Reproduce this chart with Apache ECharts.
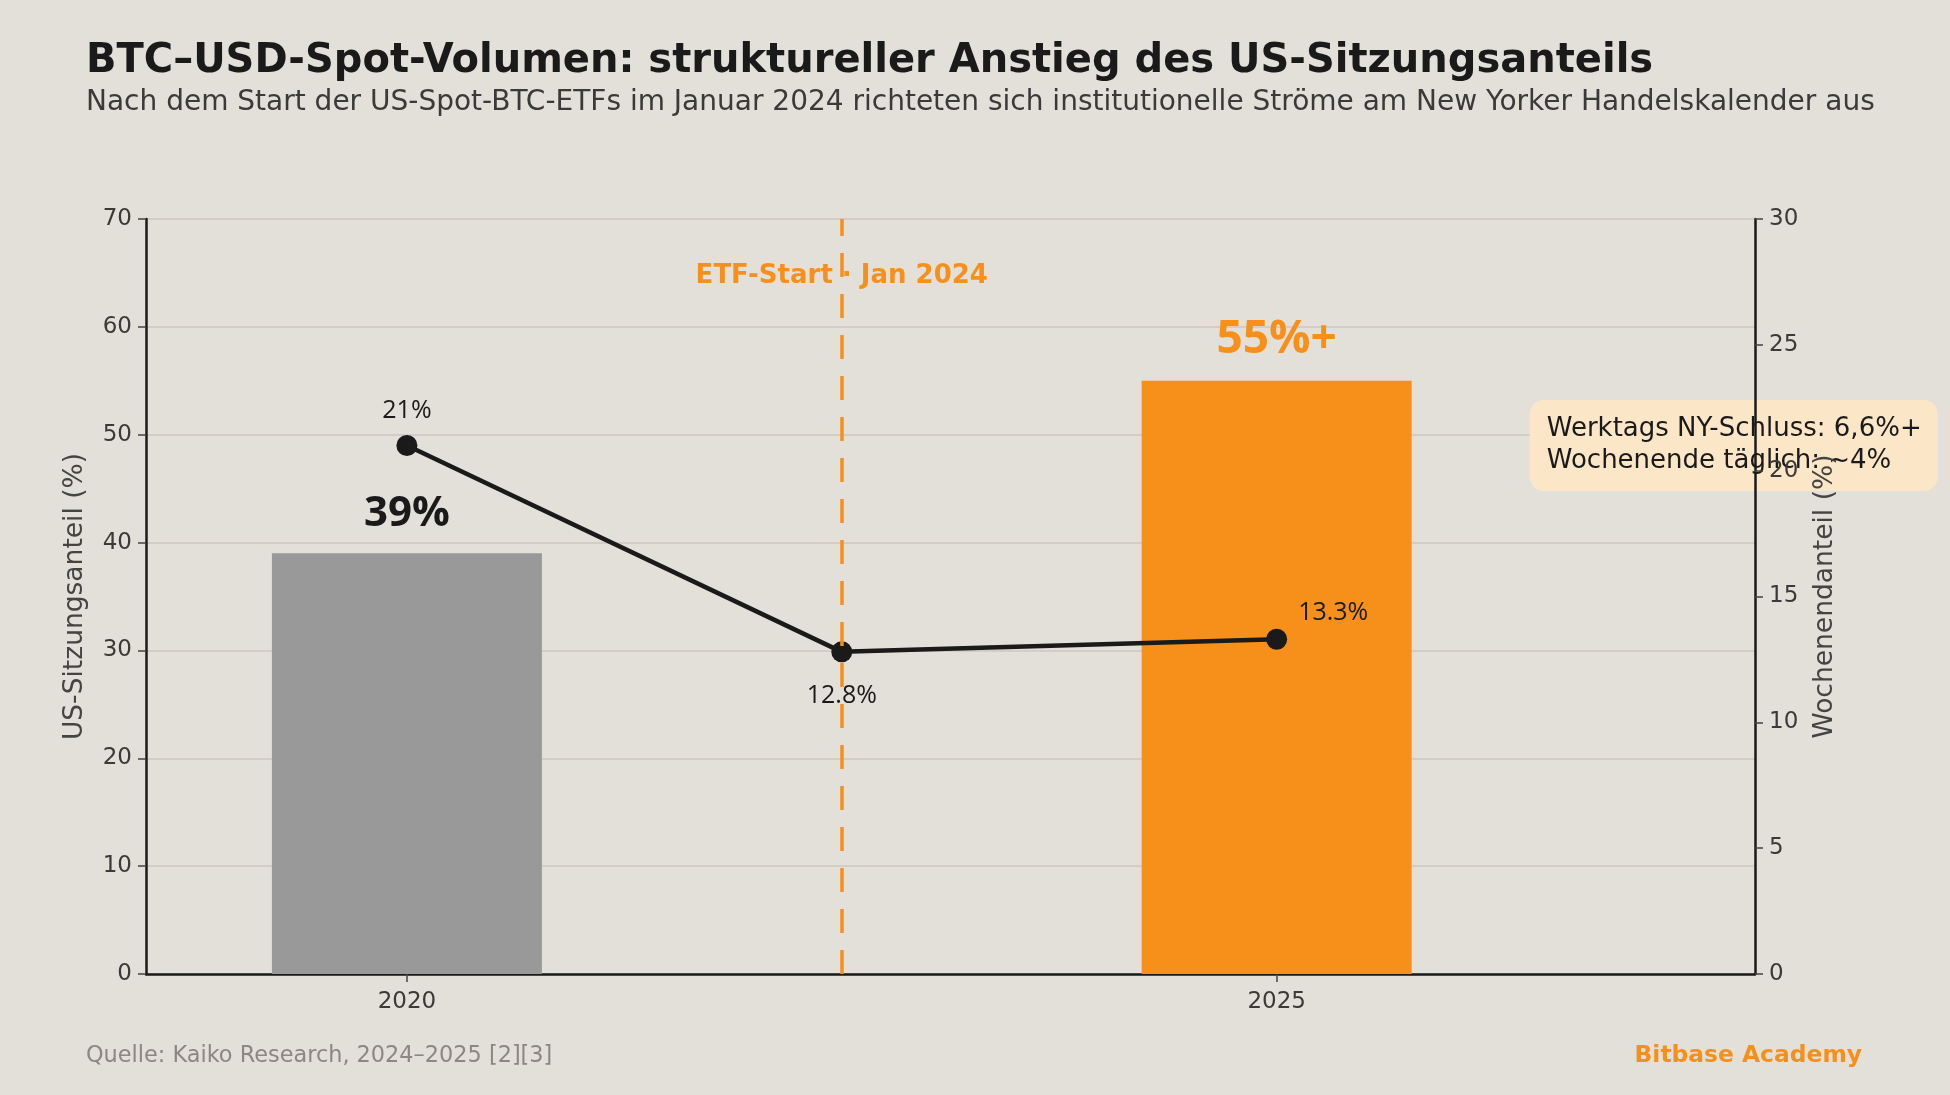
<!DOCTYPE html>
<html>
<head>
<meta charset="utf-8">
<script src="https://cdn.jsdelivr.net/npm/echarts@6/dist/echarts.min.js"></script>
<style>
    html, body { margin: 0; padding: 0; background: #e3dfd9; }
    #chart { width: 1950px; height: 1095px; }
</style>
</head>
<body>
<div id="chart"></div>
<script>
    // Werte aus der Grafik
    const years = ['2020', '2025']
    const yearPos = [0, 1]
    const usShare = [39, 55]
    const usShareLabels = ['39%', '55%+']
    const weekendPos = [0, 0.5, 1]
    const weekendShare = [21, 12.8, 13.3]
    const weekendLabels = ['21%', '12.8%', '13.3%']
    const etfPos = 0.5
    const leftTicks = [0, 10, 20, 30, 40, 50, 60, 70]
    const rightTicks = [0, 5, 10, 15, 20, 25, 30]

    const orange = '#f7901a'
    const dark = '#1a1a1a'
    const font = '"DejaVu Sans", sans-serif'
    const labelFont = '"Open Sans", sans-serif'
    const tickFont = '"DejaVu Sans", sans-serif'

    const barData = yearPos.map((x, i) => ({
        value: [x, usShare[i]],
        itemStyle: {color: i === 0 ? '#999999' : orange},
        label: {
            formatter: usShareLabels[i],
            color: i === 0 ? dark : orange,
            fontSize: i === 0 ? 42 : 46
        }
    }))

    const lineLabelPos = [
        {position: 'top', distance: 12},
        {position: 'bottom', distance: 21},
        {position: 'right', distance: 11, offset: [0, -26]}
    ]
    const lineData = weekendPos.map((x, i) => ({
        value: [x, weekendShare[i]],
        label: Object.assign({formatter: weekendLabels[i]}, lineLabelPos[i])
    }))

    const chart = echarts.init(document.getElementById('chart'))
    const option = {
        backgroundColor: '#e3dfd9',
        animation: false,
        title: [
            {
                text: 'BTC–USD-Spot-Volumen: struktureller Anstieg des US-Sitzungsanteils',
                left: 81, top: 37,
                textStyle: {fontFamily: font, fontSize: 40, fontWeight: 'bold', color: dark}
            },
            {
                text: 'Nach dem Start der US-Spot-BTC-ETFs im Januar 2024 richteten sich institutionelle Ströme am New Yorker Handelskalender aus',
                left: 81, top: 84,
                textStyle: {fontFamily: font, fontSize: 28, fontWeight: 'normal', color: '#3a3a3a'}
            },
            {
                text: 'Quelle: Kaiko Research, 2024–2025 [2][3]',
                left: 81, top: 1040,
                textStyle: {fontFamily: font, fontSize: 22.4, fontWeight: 'normal', color: '#8c8782'}
            },
            {
                text: 'Bitbase Academy',
                right: 83, top: 1039,
                textStyle: {fontFamily: font, fontSize: 23.4, fontWeight: 'bold', color: orange}
            }
        ],
        grid: {left: 146, right: 195, top: 219, bottom: 121},
        xAxis: {
            type: 'value',
            min: -0.3,
            max: 1.55,
            axisLine: {lineStyle: {color: dark, width: 2.5}},
            axisTick: {customValues: yearPos, length: 8, lineStyle: {color: '#444', width: 1.5}},
            axisLabel: {
                customValues: yearPos,
                formatter: v => years[yearPos.indexOf(v)],
                margin: 17,
                fontFamily: tickFont, fontSize: 23, color: '#3a3a3a'
            },
            splitLine: {show: false}
        },
        yAxis: [
            {
                type: 'value',
                min: leftTicks[0],
                max: leftTicks[leftTicks.length - 1],
                interval: leftTicks[1] - leftTicks[0],
                name: 'US-Sitzungsanteil (%)',
                nameLocation: 'middle',
                nameRotate: 90,
                nameGap: 57,
                nameTextStyle: {fontFamily: font, fontSize: 26.5, color: '#444'},
                axisLine: {show: true, onZero: false, lineStyle: {color: dark, width: 2.5}},
                axisTick: {show: true, length: 8, lineStyle: {color: '#444', width: 1.5}},
                axisLabel: {margin: 14, fontFamily: tickFont, fontSize: 23, color: '#3a3a3a'},
                splitLine: {show: true, lineStyle: {color: '#cdc8c1', width: 1.5}}
            },
            {
                type: 'value',
                position: 'right',
                z: 10,
                min: rightTicks[0],
                max: rightTicks[rightTicks.length - 1],
                interval: rightTicks[1] - rightTicks[0],
                name: 'Wochenendanteil (%)',
                nameLocation: 'middle',
                nameRotate: 90,
                nameGap: 57,
                nameTextStyle: {fontFamily: font, fontSize: 26.5, color: '#444'},
                axisLine: {show: true, onZero: false, lineStyle: {color: dark, width: 2.5}},
                axisTick: {show: true, length: 8, lineStyle: {color: '#444', width: 1.5}},
                axisLabel: {margin: 14, fontFamily: tickFont, fontSize: 23, color: '#3a3a3a'},
                splitLine: {show: false}
            }
        ],
        series: [
            {
                type: 'bar',
                yAxisIndex: 0,
                barWidth: 270,
                data: barData,
                label: {
                    show: true,
                    position: 'top',
                    distance: 18,
                    fontFamily: labelFont,
                    fontWeight: 'bold'
                },
                markLine: {
                    silent: true,
                    symbol: 'none',
                    label: {show: false},
                    lineStyle: {color: orange, width: 3.5, type: [24, 17]},
                    data: [{xAxis: etfPos}]
                },
                markPoint: {
                    silent: true,
                    symbol: 'circle',
                    symbolSize: 1,
                    itemStyle: {color: 'transparent'},
                    label: {
                        show: true,
                        position: 'inside',
                        formatter: 'ETF-Start · Jan 2024',
                        fontFamily: font, fontSize: 26, fontWeight: 'bold', color: orange
                    },
                    data: [{coord: [etfPos, 64.7]}]
                }
            },
            {
                type: 'line',
                yAxisIndex: 1,
                data: lineData,
                symbol: 'circle',
                symbolSize: 21,
                lineStyle: {color: dark, width: 4.5},
                itemStyle: {color: dark},
                label: {
                    show: true,
                    fontFamily: labelFont, fontSize: 25, color: dark
                },
                markPoint: {
                    silent: true,
                    symbol: 'circle',
                    symbolSize: 1,
                    itemStyle: {color: 'transparent'},
                    label: {
                        show: true,
                        position: 'inside',
                        align: 'left',
                        verticalAlign: 'middle',
                        formatter: 'Werktags NY-Schluss: 6,6%+\nWochenende täglich: ~4%',
                        fontFamily: font, fontSize: 26, lineHeight: 32, color: dark,
                        backgroundColor: '#fce6c8',
                        borderRadius: 14,
                        padding: [12, 16, 15, 17]
                    },
                    data: [{coord: [1.291, 21]}]
                }
            }
        ]
    }
    chart.setOption(option)
    window.addEventListener('resize', () => chart.resize())
</script>
</body>
</html>
